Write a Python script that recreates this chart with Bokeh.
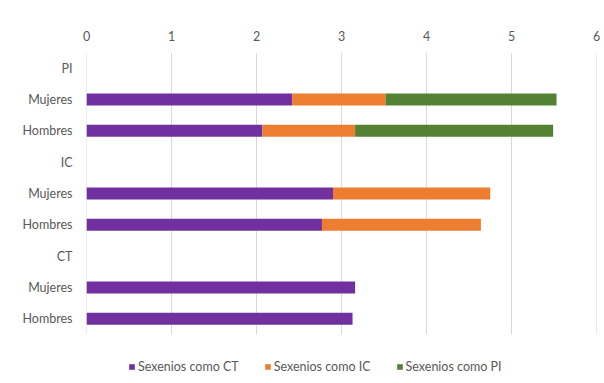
from bokeh.plotting import figure
from bokeh.models import ColumnDataSource, Legend, LegendItem, FixedTicker
from bokeh.embed import file_html
from bokeh.resources import INLINE

# Data (bottom to top)
labels = ["Hombres", "Mujeres", "CT", "Hombres", "Mujeres", "IC", "Hombres", "Mujeres", "PI"]
ct = [3.13, 3.16, 0, 2.77, 2.90, 0, 2.07, 2.42, 0]
ic = [0, 0, 0, 1.87, 1.85, 0, 1.09, 1.10, 0]
pi = [0, 0, 0, 0, 0, 0, 2.33, 2.01, 0]
series = ["Sexenios como CT", "Sexenios como IC", "Sexenios como PI"]
colors = ["#7030A0", "#ED7D31", "#548235"]
x_ticks = [0, 1, 2, 3, 4, 5, 6]

n = len(labels)
ypos = list(range(n))
src = ColumnDataSource(dict(y=ypos, ct=ct, ic=ic, pi=pi))

FONT = "Lato"
GRAY = "#595959"
FS = "12.5px"

# frame extends below the category area to hold the legend
p = figure(width=600, height=375, output_backend="svg", toolbar_location=None,
           x_range=(0, 6), y_range=(-1.81, n - 0.5),
           x_axis_location="above", min_border_left=86, min_border_right=4,
           min_border_top=52, min_border_bottom=0)
p.outline_line_color = None
p.background_fill_color = "white"
p.border_fill_color = "white"

# vertical gridlines limited to the category area
p.segment(x0=x_ticks, x1=x_ticks, y0=[-0.5] * len(x_ticks), y1=[n - 0.5] * len(x_ticks),
          line_color="#d9d9d9", line_width=1)

renderers = p.hbar_stack(["ct", "ic", "pi"], y="y", height=0.38, source=src,
                         color=colors, line_color=None)

# x axis (above)
xa = p.xaxis[0]
xa.ticker = FixedTicker(ticks=x_ticks)
xa.axis_line_color = None
xa.major_tick_line_color = None
xa.minor_tick_line_color = None
xa.major_tick_out = 0
xa.major_tick_in = 0
xa.major_label_standoff = 12
xa.major_label_text_font = FONT
xa.major_label_text_font_size = FS
xa.major_label_text_color = GRAY

# y axis
ya = p.yaxis[0]
ya.ticker = FixedTicker(ticks=ypos)
ya.major_label_overrides = {i: lab for i, lab in enumerate(labels)}
ya.axis_line_color = None
ya.major_tick_line_color = None
ya.minor_tick_line_color = None
ya.major_tick_out = 0
ya.major_tick_in = 0
ya.major_label_standoff = 14
ya.major_label_text_font = FONT
ya.major_label_text_font_size = FS
ya.major_label_text_color = GRAY

p.xgrid.grid_line_color = None
p.ygrid.grid_line_color = None

legend = Legend(items=[LegendItem(label=s, renderers=[r]) for s, r in zip(series, renderers)],
                orientation="horizontal", location=(42, 1),
                glyph_width=7, glyph_height=7, label_standoff=3, spacing=25,
                padding=0, margin=0, border_line_color=None, background_fill_alpha=0,
                label_text_font=FONT, label_text_font_size=FS, label_text_color=GRAY,
                label_height=14)
p.add_layout(legend, "center")

open("out.html", "w").write(file_html(p, INLINE))
